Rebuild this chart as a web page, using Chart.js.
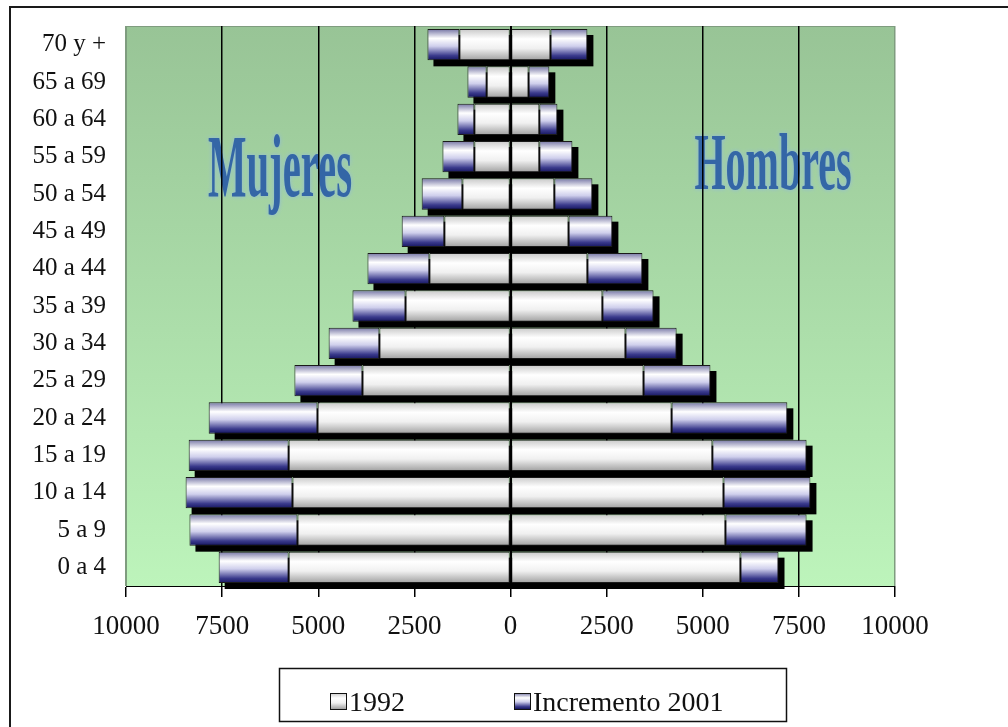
<!DOCTYPE html>
<html lang="es">
<head>
<meta charset="utf-8">
<title>Pirámide de población 1992 - 2001</title>
<script src="https://cdn.jsdelivr.net/npm/chart.js@4.4.1/dist/chart.umd.min.js"></script>
<style>
  html, body { margin: 0; padding: 0; background: #fff; }
  #wrap { width: 1008px; height: 727px; }
</style>
</head>
<body>
<div id="wrap"><canvas id="piramide" width="1008" height="727"></canvas></div>
<script>
// ===== DATOS =====
const gruposEdad = ['70 y +', '65 a 69', '60 a 64', '55 a 59', '50 a 54', '45 a 49', '40 a 44',
  '35 a 39', '30 a 34', '25 a 29', '20 a 24', '15 a 19', '10 a 14', '5 a 9', '0 a 4'];
const mujeres1992 = [1330, 620, 940, 940, 1250, 1720, 2110, 2730, 3410, 3850, 5020, 5770, 5670, 5540, 5770];
const mujeresIncremento = [830, 500, 440, 830, 1060, 1110, 1610, 1380, 1320, 1770, 2830, 2600, 2780, 2810, 1820];
const hombres1992 = [1040, 470, 750, 750, 1140, 1510, 2000, 2390, 2990, 3460, 4190, 5250, 5540, 5590, 5980];
const hombresIncremento = [960, 540, 470, 860, 990, 1140, 1430, 1330, 1330, 1740, 3010, 2450, 2260, 2110, 990];
const limitesX = [-10000, 10000];
const pasoX = 2500;
const etiquetasSerie = ['1992', 'Incremento 2001'];
const rotulos = ['Mujeres', 'Hombres'];

// ===== ESTILOS =====
const FUENTE = "'Liberation Serif', 'Times New Roman', serif";
const GROSOR = 0.84;
const TONOS_1992 = [[0, '#c8c8c8'], [0.32, '#ffffff'], [0.62, '#f0f0f0'], [1, '#a0a0a0']];
const TONOS_INCREMENTO = [[0, '#7474a4'], [0.3, '#ffffff'], [0.55, '#cfcfec'], [0.85, '#3a3a8c'], [1, '#15155e']];

function degradado(ctx, y0, y1, tonos) {
  const g = ctx.createLinearGradient(0, y0, 0, y1);
  tonos.forEach(([p, c]) => g.addColorStop(p, c));
  return g;
}

function rellenoBarra(tonos) {
  return (c) => {
    const chart = c.chart;
    const area = chart.chartArea;
    if (!area || c.type !== 'data') return tonos[1][1];
    const centro = chart.scales.y.getPixelForValue(c.dataIndex);
    const alto = (area.bottom - area.top) / gruposEdad.length * GROSOR;
    return degradado(chart.ctx, centro - alto / 2, centro + alto / 2, tonos);
  };
}

function textoComprimido(ctx, texto, cx, base, ancho, tam) {
  ctx.font = `bold ${tam}px ${FUENTE}`;
  const w = ctx.measureText(texto).width;
  ctx.save();
  ctx.translate(cx, base);
  ctx.scale(ancho / w, 1);
  ctx.textAlign = 'center';
  ctx.textBaseline = 'alphabetic';
  ctx.fillText(texto, 0, 0);
  ctx.restore();
}

// ===== PLUGINS =====
const fondoPlugin = {
  id: 'fondo',
  beforeDraw(chart) {
    const { ctx, chartArea: a } = chart;
    ctx.save();
    ctx.fillStyle = '#fff';
    ctx.fillRect(0, 0, chart.width, chart.height);

    // marco exterior
    ctx.strokeStyle = '#1a1a1a';
    ctx.lineWidth = 2;
    ctx.beginPath();
    ctx.moveTo(10, chart.height);
    ctx.lineTo(10, 7);
    ctx.lineTo(chart.width, 7);
    ctx.stroke();

    // area de trazado en verde
    ctx.fillStyle = degradado(ctx, a.top, a.bottom, [[0, '#98c496'], [1, '#bdf4bb']]);
    ctx.fillRect(a.left, a.top, a.right - a.left, a.bottom - a.top);
    ctx.strokeStyle = '#7f9c7f';
    ctx.lineWidth = 1;
    ctx.strokeRect(a.left + 0.5, a.top + 0.5, a.right - a.left - 1, a.bottom - a.top);

    // Mujeres / Hombres
    ctx.fillStyle = '#3466a6';
    ctx.shadowColor = 'rgba(140, 180, 235, 0.8)';
    ctx.shadowBlur = 4;
    textoComprimido(ctx, rotulos[0], a.left + 154, a.top + 170, 144, 88);
    textoComprimido(ctx, rotulos[1], a.left + 647, a.top + 163, 157, 80);
    ctx.restore();
  }
};

const sombraPlugin = {
  id: 'sombra',
  beforeDatasetsDraw(chart) {
    const { ctx, scales: { x, y } } = chart;
    const barras = chart.getDatasetMeta(0).data;
    ctx.save();
    ctx.fillStyle = '#000';
    gruposEdad.forEach((_, i) => {
      const izq = x.getPixelForValue(-(mujeres1992[i] + mujeresIncremento[i]));
      const der = x.getPixelForValue(hombres1992[i] + hombresIncremento[i]);
      const alto = barras[i].height;
      const yc = y.getPixelForValue(i);
      ctx.fillRect(izq + 6, yc - alto / 2 + 6, der - izq, alto);
    });
    ctx.restore();
  },
  afterDatasetsDraw(chart) {
    // eje de categorias en el cero, por encima de las barras
    const { ctx, chartArea: a, scales: { x } } = chart;
    const x0 = Math.round(x.getPixelForValue(0));
    ctx.save();
    ctx.strokeStyle = '#000';
    ctx.lineWidth = 2;
    ctx.beginPath();
    ctx.moveTo(x0, a.top);
    ctx.lineTo(x0, a.bottom);
    ctx.stroke();
    ctx.restore();
  }
};

const leyendaPlugin = {
  id: 'leyendaCaja',
  afterDraw(chart) {
    const ctx = chart.ctx;
    const caja = { x: 279, y: 668, w: 507, h: 53 };
    ctx.save();
    ctx.strokeStyle = '#111';
    ctx.lineWidth = 1.5;
    ctx.strokeRect(caja.x + 0.5, caja.y + 0.5, caja.w, caja.h);

    const items = [
      { x: caja.x + 51, tonos: TONOS_1992, texto: etiquetasSerie[0] },
      { x: caja.x + 235, tonos: TONOS_INCREMENTO, texto: etiquetasSerie[1] }
    ];
    ctx.font = `28px ${FUENTE}`;
    ctx.textBaseline = 'alphabetic';
    ctx.textAlign = 'left';
    items.forEach(it => {
      const top = caja.y + 25;
      ctx.fillStyle = degradado(ctx, top, top + 16, it.tonos);
      ctx.fillRect(it.x, top, 16, 16);
      ctx.strokeStyle = '#111';
      ctx.lineWidth = 1;
      ctx.strokeRect(it.x + 0.5, top + 0.5, 16, 16);
      ctx.fillStyle = '#111';
      ctx.fillText(it.texto, it.x + 19, caja.y + 43);
    });
    ctx.restore();
  }
};

// ===== GRAFICO =====
const bordeBarra = { borderColor: '#1a1a1a', borderWidth: 1, borderSkipped: false };

new Chart(document.getElementById('piramide'), {
  type: 'bar',
  data: {
    labels: gruposEdad,
    datasets: [
      { label: etiquetasSerie[0], data: mujeres1992.map(v => -v), backgroundColor: rellenoBarra(TONOS_1992), ...bordeBarra },
      { label: etiquetasSerie[1], data: mujeresIncremento.map(v => -v), backgroundColor: rellenoBarra(TONOS_INCREMENTO), ...bordeBarra },
      { label: etiquetasSerie[0], data: hombres1992, backgroundColor: rellenoBarra(TONOS_1992), ...bordeBarra },
      { label: etiquetasSerie[1], data: hombresIncremento, backgroundColor: rellenoBarra(TONOS_INCREMENTO), ...bordeBarra }
    ]
  },
  options: {
    indexAxis: 'y',
    responsive: false,
    animation: false,
    devicePixelRatio: 1,
    barPercentage: GROSOR,
    categoryPercentage: 1,
    layout: { padding: { top: 26, right: 113, left: 0, bottom: 0 } },
    plugins: {
      legend: { display: false },
      tooltip: {
        callbacks: { label: (c) => `${c.dataset.label}: ${Math.abs(c.parsed.x)}` }
      }
    },
    scales: {
      x: {
        stacked: true,
        min: limitesX[0],
        max: limitesX[1],
        ticks: {
          stepSize: pasoX,
          autoSkip: false,
          maxRotation: 0,
          padding: 14,
          color: '#111',
          font: { family: FUENTE, size: 27, lineHeight: 1.2 },
          callback: (v) => Math.abs(v)
        },
        grid: {
          color: (c) => Math.abs(c.tick.value) === limitesX[1] ? '#7f9c7f' : '#000',
          lineWidth: 1.5,
          tickLength: 11,
          tickColor: '#000'
        },
        border: { display: true, color: '#000', width: 1 },
        afterFit: (s) => { s.height = 141; }
      },
      y: {
        stacked: true,
        // sin lineas, pero la longitud de marca sirve de separacion de las etiquetas
        grid: { display: false, drawTicks: true, tickLength: 20 },
        border: { display: false },
        ticks: {
          autoSkip: false,
          padding: 0,
          color: '#111',
          font: { family: FUENTE, size: 25 }
        },
        afterFit: (s) => { s.width = 126; }
      }
    }
  },
  plugins: [fondoPlugin, sombraPlugin, leyendaPlugin]
});
</script>
</body>
</html>
